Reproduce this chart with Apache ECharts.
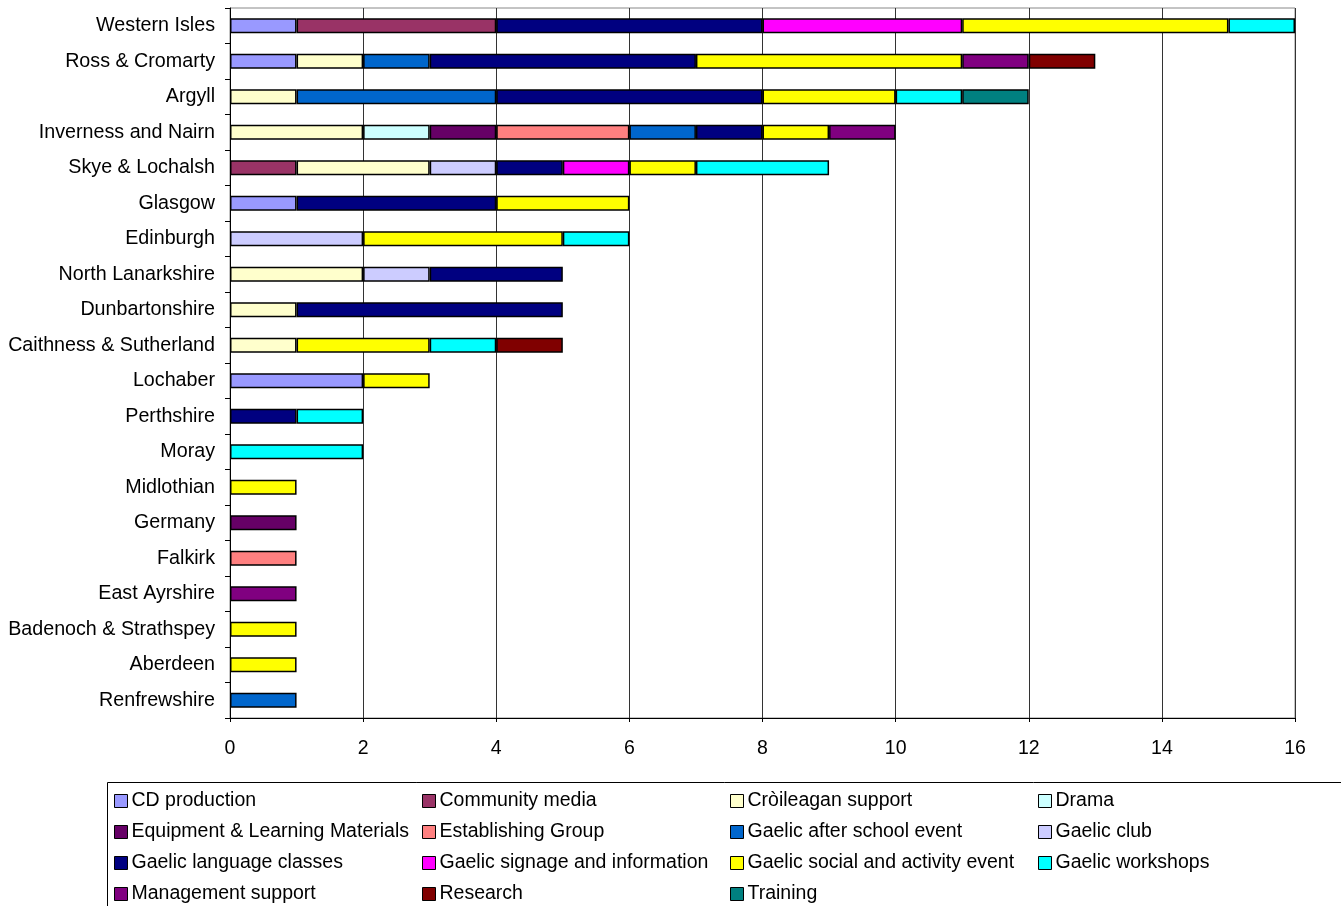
<!DOCTYPE html>
<html>
<head>
<meta charset="utf-8">
<title>Gaelic activities by area</title>
<script src="https://cdn.jsdelivr.net/npm/echarts@6/dist/echarts.min.js"></script>
<style>
  html, body { margin: 0; padding: 0; background: #fff; }
  #chart { width: 1341px; height: 906px; }
</style>
</head>
<body>
<div id="chart"></div>
<script>
// Areas, top to bottom
const areas = [
  'Western Isles', 'Ross & Cromarty', 'Argyll', 'Inverness and Nairn', 'Skye & Lochalsh',
  'Glasgow', 'Edinburgh', 'North Lanarkshire', 'Dunbartonshire', 'Caithness & Sutherland',
  'Lochaber', 'Perthshire', 'Moray', 'Midlothian', 'Germany',
  'Falkirk', 'East Ayrshire', 'Badenoch & Strathspey', 'Aberdeen', 'Renfrewshire'
];

// Number of projects per activity type, one value per area (null = none)
const _ = null;
const cdProduction        = [1, 1, _, _, _, 1, _, _, _, _, 2, _, _, _, _, _, _, _, _, _];
const communityMedia      = [3, _, _, _, 1, _, _, _, _, _, _, _, _, _, _, _, _, _, _, _];
const croileaganSupport   = [_, 1, 1, 2, 2, _, _, 2, 1, 1, _, _, _, _, _, _, _, _, _, _];
const drama               = [_, _, _, 1, _, _, _, _, _, _, _, _, _, _, _, _, _, _, _, _];
const equipmentMaterials  = [_, _, _, 1, _, _, _, _, _, _, _, _, _, _, 1, _, _, _, _, _];
const establishingGroup   = [_, _, _, 2, _, _, _, _, _, _, _, _, _, _, _, 1, _, _, _, _];
const afterSchoolEvent    = [_, 1, 3, 1, _, _, _, _, _, _, _, _, _, _, _, _, _, _, _, 1];
const gaelicClub          = [_, _, _, _, 1, _, 2, 1, _, _, _, _, _, _, _, _, _, _, _, _];
const languageClasses     = [4, 4, 4, 1, 1, 3, _, 2, 4, _, _, 1, _, _, _, _, _, _, _, _];
const signageInformation  = [3, _, _, _, 1, _, _, _, _, _, _, _, _, _, _, _, _, _, _, _];
const socialActivityEvent = [4, 4, 2, 1, 1, 2, 3, _, _, 2, 1, _, _, 1, _, _, _, 1, 1, _];
const workshops           = [1, _, 1, _, 2, _, 1, _, _, 1, _, 1, 2, _, _, _, _, _, _, _];
const managementSupport   = [_, 1, _, 1, _, _, _, _, _, _, _, _, _, _, _, _, 1, _, _, _];
const research            = [_, 1, _, _, _, _, _, _, _, 1, _, _, _, _, _, _, _, _, _, _];
const training            = [_, _, 1, _, _, _, _, _, _, _, _, _, _, _, _, _, _, _, _, _];

// Value axis ticks
const xTicks = [0, 2, 4, 6, 8, 10, 12, 14, 16];

const seriesDefs = [
  ['CD production', cdProduction, '#9999FF'],
  ['Community media', communityMedia, '#993366'],
  ['Cròileagan support', croileaganSupport, '#FFFFCC'],
  ['Drama', drama, '#CCFFFF'],
  ['Equipment & Learning Materials', equipmentMaterials, '#660066'],
  ['Establishing Group', establishingGroup, '#FF8080'],
  ['Gaelic after school event', afterSchoolEvent, '#0066CC'],
  ['Gaelic club', gaelicClub, '#CCCCFF'],
  ['Gaelic language classes', languageClasses, '#000080'],
  ['Gaelic signage and information', signageInformation, '#FF00FF'],
  ['Gaelic social and activity event', socialActivityEvent, '#FFFF00'],
  ['Gaelic workshops', workshops, '#00FFFF'],
  ['Management support', managementSupport, '#800080'],
  ['Research', research, '#800000'],
  ['Training', training, '#008080']
];

const FONT = "'Liberation Sans', Arial, sans-serif";

// Legend laid out as four columns, reading row by row
const names = seriesDefs.map(d => d[0]);
const legendCols = [0, 1, 2, 3].map(c => names.filter((n, i) => i % 4 === c));
const colLeft = [114, 422, 730, 1038];

const legends = legendCols.map((col, c) => ({
  data: col,
  orient: 'vertical',
  left: colLeft[c],
  top: 791,
  padding: 0,
  itemWidth: 13,
  itemHeight: 13,
  itemGap: 11,
  selectedMode: false,
  icon: 'rect',
  itemStyle: { borderColor: '#000', borderWidth: 1 },
  textStyle: { fontFamily: FONT, fontSize: 19.5, color: '#000', lineHeight: 20, padding: [0, 0, 0, -1] }
}));

const chart = echarts.init(document.getElementById('chart'), null, { renderer: 'canvas' });

chart.setOption({
  animation: false,
  backgroundColor: '#fff',
  textStyle: { fontFamily: FONT },
  grid: {
    left: 230, top: 8, width: 1065, height: 710,
    show: true, borderColor: '#888', borderWidth: 1, backgroundColor: 'transparent'
  },
  legend: legends,
  graphic: [{
    type: 'rect',
    shape: { x: 107.5, y: 782.5, width: 1240, height: 130 },
    style: { fill: 'none', stroke: '#000', lineWidth: 1 },
    silent: true,
    z: 0
  }],
  xAxis: {
    type: 'value',
    min: xTicks[0],
    max: xTicks[xTicks.length - 1],
    interval: xTicks[1] - xTicks[0],
    axisLine: { show: true, lineStyle: { color: '#000', width: 1 } },
    axisTick: { show: true, length: 4, lineStyle: { color: '#000' } },
    splitLine: { show: true, lineStyle: { color: '#333', width: 1 } },
    axisLabel: { fontFamily: FONT, fontSize: 19.5, color: '#000', margin: 21 }
  },
  yAxis: {
    type: 'category',
    inverse: true,
    data: areas,
    axisLine: { show: true, lineStyle: { color: '#000', width: 1 } },
    axisTick: { show: true, length: 5, lineStyle: { color: '#000' } },
    axisLabel: { fontFamily: FONT, fontSize: 19.7, color: '#000', margin: 15, padding: [2, 0, 0, 0] }
  },
  series: seriesDefs.map(([name, values, color]) => ({
    name: name,
    type: 'bar',
    stack: 'total',
    data: values,
    barWidth: 15,
    itemStyle: { color: color, borderColor: '#000', borderWidth: 1.5 }
  }))
});
</script>
</body>
</html>
